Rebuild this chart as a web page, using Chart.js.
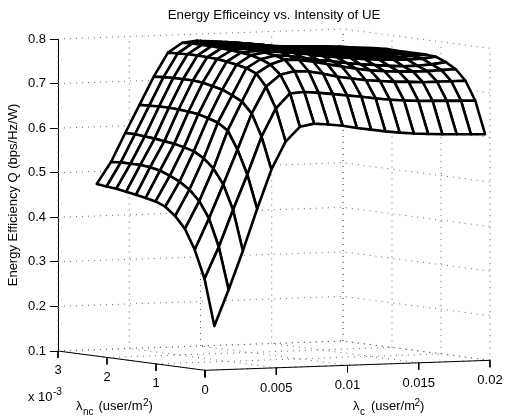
<!DOCTYPE html>
<html>
<head>
<meta charset="utf-8">
<title>Energy Efficeincy vs. Intensity of UE</title>
<script src="https://cdn.jsdelivr.net/npm/chart.js@4/dist/chart.umd.js"></script>
<style>
    html, body { margin: 0; padding: 0; background: #fff; }
    canvas { display: block; }
</style>
</head>
<body>
<canvas id="chart" width="506" height="416"></canvas>
<script>
const lambdaC = [0.001, 0.002, 0.003, 0.004, 0.005, 0.006, 0.007, 0.008, 0.009, 0.01, 0.011, 0.012, 0.013, 0.014, 0.015, 0.016, 0.017, 0.018, 0.019, 0.02];
const lambdaNc = [0.0001, 0.0003, 0.0005, 0.0007, 0.0009, 0.0011, 0.0013, 0.0015, 0.0017, 0.0019, 0.0021, 0.0023, 0.0025];

// one row per lambdaNc, one value per lambdaC
const efficiency = [
    [0.197, 0.277, 0.363, 0.456, 0.543, 0.605, 0.637, 0.643, 0.640, 0.636, 0.630, 0.625, 0.620, 0.616, 0.613, 0.611, 0.609, 0.608, 0.607, 0.606],
    [0.300, 0.370, 0.452, 0.530, 0.614, 0.676, 0.709, 0.711, 0.708, 0.704, 0.700, 0.696, 0.691, 0.687, 0.684, 0.682, 0.681, 0.680, 0.679, 0.678],
    [0.362, 0.431, 0.506, 0.583, 0.663, 0.722, 0.748, 0.755, 0.753, 0.747, 0.739, 0.734, 0.729, 0.726, 0.723, 0.722, 0.720, 0.720, 0.720, 0.720],
    [0.406, 0.467, 0.539, 0.623, 0.687, 0.749, 0.768, 0.778, 0.776, 0.771, 0.764, 0.758, 0.752, 0.747, 0.744, 0.742, 0.741, 0.741, 0.742, 0.743],
    [0.432, 0.490, 0.559, 0.638, 0.698, 0.758, 0.777, 0.784, 0.782, 0.777, 0.771, 0.767, 0.762, 0.758, 0.755, 0.752, 0.750, 0.750, 0.752, 0.756],
    [0.450, 0.505, 0.572, 0.645, 0.708, 0.763, 0.783, 0.788, 0.789, 0.785, 0.781, 0.776, 0.772, 0.769, 0.765, 0.763, 0.762, 0.761, 0.762, 0.765],
    [0.459, 0.515, 0.578, 0.651, 0.713, 0.767, 0.786, 0.789, 0.790, 0.788, 0.784, 0.779, 0.775, 0.771, 0.768, 0.766, 0.765, 0.763, 0.765, 0.767],
    [0.464, 0.524, 0.583, 0.654, 0.718, 0.770, 0.788, 0.791, 0.792, 0.790, 0.785, 0.781, 0.776, 0.773, 0.770, 0.767, 0.766, 0.765, 0.766, 0.767],
    [0.468, 0.529, 0.586, 0.656, 0.720, 0.771, 0.790, 0.791, 0.792, 0.790, 0.787, 0.782, 0.778, 0.775, 0.771, 0.769, 0.768, 0.767, 0.767, 0.767],
    [0.472, 0.531, 0.589, 0.657, 0.720, 0.772, 0.792, 0.792, 0.793, 0.791, 0.787, 0.783, 0.778, 0.775, 0.772, 0.769, 0.768, 0.767, 0.767, 0.767],
    [0.476, 0.531, 0.591, 0.657, 0.720, 0.772, 0.792, 0.793, 0.793, 0.791, 0.788, 0.783, 0.779, 0.775, 0.772, 0.770, 0.769, 0.768, 0.768, 0.768],
    [0.478, 0.531, 0.593, 0.656, 0.719, 0.771, 0.792, 0.794, 0.793, 0.791, 0.787, 0.783, 0.778, 0.776, 0.774, 0.771, 0.770, 0.769, 0.768, 0.767],
    [0.481, 0.529, 0.593, 0.655, 0.717, 0.770, 0.791, 0.794, 0.792, 0.789, 0.785, 0.781, 0.778, 0.775, 0.774, 0.773, 0.772, 0.770, 0.767, 0.765]
];

const cTicks = [0, 0.005, 0.01, 0.015, 0.02];
const cTickLabels = ['0', '0.005', '0.01', '0.015', '0.02'];
const ncTicks = [0, 0.001, 0.002, 0.003];
const ncTickLabels = ['0', '1', '2', '3'];
const qTicks = [0.1, 0.2, 0.3, 0.4, 0.5, 0.6, 0.7, 0.8];

const cMax = 0.02;
const ncMax = 0.003;
const qMin = 0.1;
const qMax = 0.8;
const font = '"Liberation Sans", Arial, sans-serif';

// fixed 3D view: the chart's x/y scales are the screen plane of that view
const planeWidth = 432;
const qPerPixel = (qMax - qMin) / 312;

function project(c, nc, q) {
    return {
        x: 147 * (1 - nc / ncMax) + 285 * c / cMax,
        y: q - (19.3 * (1 - nc / ncMax) - 10 * c / cMax) * qPerPixel
    };
}

function lineSet(points, color, width, dash) {
    return {
        data: points,
        showLine: true,
        fill: false,
        borderColor: color,
        borderWidth: width,
        borderDash: dash || [],
        pointRadius: 0,
        pointHoverRadius: 0,
        clip: false
    };
}

const datasets = [];

// surface first: datasets listed first are painted last, so the front cells hide the back
for (let i = 0; i < lambdaC.length - 1; i++) {
    for (let j = 0; j < lambdaNc.length - 1; j++) {
        const cell = [
            project(lambdaC[i], lambdaNc[j], efficiency[j][i]),
            project(lambdaC[i + 1], lambdaNc[j], efficiency[j][i + 1]),
            project(lambdaC[i + 1], lambdaNc[j + 1], efficiency[j + 1][i + 1]),
            project(lambdaC[i], lambdaNc[j + 1], efficiency[j + 1][i]),
            project(lambdaC[i], lambdaNc[j], efficiency[j][i])
        ];
        const set = lineSet(cell, '#000', 2.6);
        set.fill = 'shape';
        set.backgroundColor = '#fff';
        set.borderJoinStyle = 'round';
        set.borderCapStyle = 'round';
        datasets.push(set);
    }
}

// solid floor axes and their ticks
const tickDrop = 7 * qPerPixel;
datasets.push(lineSet([project(0, ncMax, qMin), project(0, 0, qMin), project(cMax, 0, qMin)], '#000', 1));
cTicks.forEach(function (c) {
    const p = project(c, 0, qMin);
    datasets.push(lineSet([p, {x: p.x, y: p.y - tickDrop}], '#000', 1));
});
ncTicks.forEach(function (nc) {
    const p = project(0, nc, qMin);
    datasets.push(lineSet([p, {x: p.x, y: p.y - tickDrop}], '#000', 1));
});

// dotted grid on the two back walls and the floor
const gridColor = '#666';
const gridDash = [1, 5];
qTicks.forEach(function (q) {
    datasets.push(lineSet([project(0, ncMax, q), project(cMax, ncMax, q), project(cMax, 0, q)], gridColor, 1, gridDash));
});
cTicks.forEach(function (c) {
    datasets.push(lineSet([project(c, ncMax, qMin), project(c, ncMax, qMax)], gridColor, 1, gridDash));
    datasets.push(lineSet([project(c, 0, qMin), project(c, ncMax, qMin)], gridColor, 1, gridDash));
});
ncTicks.forEach(function (nc) {
    datasets.push(lineSet([project(cMax, nc, qMin), project(cMax, nc, qMax)], gridColor, 1, gridDash));
    datasets.push(lineSet([project(0, nc, qMin), project(cMax, nc, qMin)], gridColor, 1, gridDash));
});

// text the two flat scales cannot place: floor tick labels and floor axis names
const floorText = {
    id: 'floorText',
    afterDraw: function (chart) {
        const ctx = chart.ctx;
        const xs = chart.scales.x;
        const ys = chart.scales.y;
        ctx.save();
        ctx.fillStyle = '#000';
        ctx.font = '13px ' + font;
        ctx.textAlign = 'center';
        ctx.textBaseline = 'middle';
        cTicks.forEach(function (c, k) {
            const p = project(c, 0, qMin);
            ctx.fillText(cTickLabels[k], xs.getPixelForValue(p.x), ys.getPixelForValue(p.y) + 20.5);
        });
        ncTicks.forEach(function (nc, k) {
            if (nc === 0) return; // same spot as the first cTick label
            const p = project(0, nc, qMin);
            ctx.fillText(ncTickLabels[k], xs.getPixelForValue(p.x), ys.getPixelForValue(p.y) + 19.5);
        });

        ctx.textAlign = 'left';
        ctx.textBaseline = 'alphabetic';
        function piece(text, x, y, size) {
            ctx.font = size + 'px ' + font;
            ctx.fillText(text, x, y);
        }
        piece('x 10', 28, 400.5, 13);
        piece('-3', 53, 394.5, 10);

        piece('\u03BB', 76, 410, 13);
        piece('nc', 83, 414.5, 10);
        piece('(user/m', 98.5, 410, 13);
        piece('2', 143, 405.5, 10);
        piece(')', 148.5, 410, 13);

        piece('\u03BB', 353, 410, 13);
        piece('c', 360, 414.5, 10);
        piece('(user/m', 371, 410, 13);
        piece('2', 414.5, 405.5, 10);
        piece(')', 420, 410, 13);
        ctx.restore();
    }
};

new Chart(document.getElementById('chart'), {
    type: 'scatter',
    data: {datasets: datasets},
    plugins: [floorText],
    options: {
        responsive: false,
        animation: false,
        layout: {padding: {left: 0, right: 16, top: 0, bottom: 65}},
        plugins: {
            legend: {display: false},
            tooltip: {enabled: false},
            title: {
                display: true,
                fullSize: false, // centre over the plot, not the whole canvas
                text: 'Energy Efficeincy vs. Intensity of UE',
                color: '#000',
                font: {size: 13.25, family: font, weight: 'normal'},
                padding: {top: 7.75, bottom: 15.35}
            }
        },
        scales: {
            x: {type: 'linear', display: false, min: 0, max: planeWidth},
            y: {
                type: 'linear',
                min: qMin,
                max: qMax,
                afterFit: function (scale) { scale.width = 58; },
                afterBuildTicks: function (scale) {
                    scale.ticks = qTicks.map(function (q) { return {value: q}; });
                },
                border: {display: true, color: '#000', width: 1},
                grid: {drawOnChartArea: false, drawTicks: true, tickLength: 8, color: '#000'},
                ticks: {
                    color: '#000',
                    padding: 4,
                    font: {size: 13, family: font},
                    callback: function (v) { return v.toFixed(1); }
                },
                title: {
                    display: true,
                    text: 'Energy Efficiency Q (bps/Hz/W)',
                    color: '#000',
                    font: {size: 13, family: font},
                    padding: {top: 6, bottom: 0}
                }
            }
        }
    }
});
</script>
</body>
</html>
